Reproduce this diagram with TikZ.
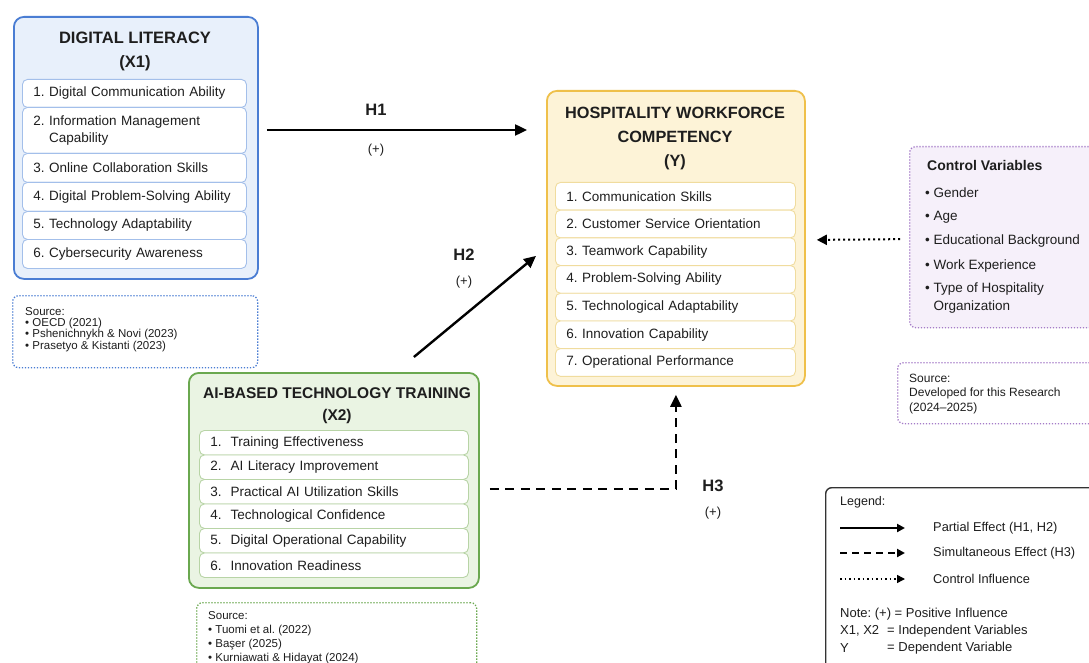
\documentclass[tikz,border=0pt]{standalone}
\usepackage{fontspec}
\setmainfont{Liberation Sans}
\usetikzlibrary{arrows.meta,calc}
\definecolor{dlfill}{HTML}{E8F0FB}
\definecolor{dlline}{HTML}{4A7DD3}
\definecolor{dlitem}{HTML}{A3BFEA}
\definecolor{aifill}{HTML}{EAF4E3}
\definecolor{ailine}{HTML}{6AA84F}
\definecolor{aiitem}{HTML}{B8D4A6}
\definecolor{hwfill}{HTML}{FDF3D7}
\definecolor{hwline}{HTML}{EFC04A}
\definecolor{hwitem}{HTML}{F0DC9E}
\definecolor{cvfill}{HTML}{F6F0FA}
\definecolor{cvline}{HTML}{A57CC8}
\definecolor{ink}{HTML}{1E1E1E}
\definecolor{lgline}{HTML}{333333}
\newcommand\fsz[2]{\fontsize{#1}{#2}\selectfont}
\frenchspacing
\begin{document}
\begin{tikzpicture}[x=1pt,y=-1pt,
  bigbox/.style={anchor=north west,rounded corners=10pt,line width=1.8pt,inner sep=0pt},
  srcbox/.style={anchor=north west,rounded corners=6pt,line width=1.3pt,dash pattern=on 1.3pt off 1.7pt,fill=white,inner sep=0pt},
  itembox/.style={anchor=north west,rounded corners=5pt,line width=0.9pt,fill=white,inner xsep=11pt,inner ysep=0pt,align=left,font=\fsz{13.5}{16.5},text=ink},
  ttl/.style={font=\bfseries\fsz{16.5}{20},text=ink,inner sep=0pt},
  txt/.style={anchor=west,inner sep=0pt,text=ink,align=left},
  hlab/.style={font=\bfseries\fsz{16.5}{20},text=ink,inner sep=0pt},
  plab/.style={font=\fsz{13}{16},text=ink,inner sep=0pt},
  arr/.style={line width=2.4pt,draw=black,-{Triangle[length=12pt,width=11pt]}},
  dasharr/.style={line width=2.4pt,draw=black,dash pattern=on 9pt off 6.5pt,-{Triangle[length=12pt,width=11pt]}},
  dotarr/.style={line width=2pt,draw=black,dash pattern=on 2pt off 3pt,-{Triangle[length=10pt,width=10pt]}},
  lgsolid/.style={line width=2pt,draw=black,-{Triangle[length=8pt,width=8pt]}},
  lgdash/.style={line width=2pt,draw=black,dash pattern=on 7pt off 5pt,-{Triangle[length=8pt,width=8pt]}},
  lgdot/.style={line width=1.5pt,draw=black,dash pattern=on 1.5pt off 3pt,-{Triangle[length=8pt,width=8pt]}}
]
\useasboundingbox (0,0) rectangle (1089,663);
\clip (0,0) rectangle (1089,663);
\fill[white] (0,0) rectangle (1089,663);

% ---------- Digital Literacy ----------
\node[bigbox,draw=dlline,fill=dlfill,minimum width=244pt,minimum height=262pt] (dl) at (13,16) {};
\node[ttl] (dlt1) at (135,38) {DIGITAL LITERACY};
\node[ttl] (dlt2) at (135,63) {(X1)};
\tikzset{dli/.style={itembox,draw=dlitem,text width=202pt,minimum width=224pt}}
\node[dli,minimum height=28pt] (dl1) at (22,79) {1. Digital Communication Ability};
\node[dli,minimum height=46pt] (dl2) at (22,107) {2. Information Management\\\phantom{2. }Capability};
\node[dli,minimum height=29pt] (dl3) at (22,153) {3. Online Collaboration Skills};
\node[dli,minimum height=29pt] (dl4) at (22,182) {4. Digital Problem-Solving Ability};
\node[dli,minimum height=28pt] (dl5) at (22,211) {5. Technology Adaptability};
\node[dli,minimum height=29pt] (dl6) at (22,239) {6. Cybersecurity Awareness};

\node[srcbox,draw=dlline,minimum width=245pt,minimum height=72pt] (dls) at (12,295) {};
\node[txt,font=\fsz{11.5}{11.7}] (dlst) at (25,312) {Source:};
\node[txt,font=\fsz{11.5}{11.7}] (dls1) at (25,323.5) {\textbullet\ OECD (2021)};
\node[txt,font=\fsz{11.5}{11.7}] (dls2) at (25,335) {\textbullet\ Pshenichnykh \& Novi (2023)};
\node[txt,font=\fsz{11.5}{11.7}] (dls3) at (25,346.5) {\textbullet\ Prasetyo \& Kistanti (2023)};

% ---------- AI-based training ----------
\node[bigbox,draw=ailine,fill=aifill,minimum width=290pt,minimum height=215pt] (ai) at (188,372) {};
\node[ttl,font=\bfseries\fsz{15.5}{19}] (ait1) at (337,393) {AI-BASED TECHNOLOGY TRAINING};
\node[ttl,font=\bfseries\fsz{15.5}{19}] (ait2) at (337,416) {(X2)};
\tikzset{aii/.style={itembox,draw=aiitem,text width=247pt,minimum width=269pt,minimum height=24.5pt}}
\node[aii] (ai1) at (199,430) {1.\ \ Training Effectiveness};
\node[aii] (ai2) at (199,454.5) {2.\ \ AI Literacy Improvement};
\node[aii] (ai3) at (199,479) {3.\ \ Practical AI Utilization Skills};
\node[aii] (ai4) at (199,503.5) {4.\ \ Technological Confidence};
\node[aii] (ai5) at (199,528) {5.\ \ Digital Operational Capability};
\node[aii] (ai6) at (199,552.5) {6.\ \ Innovation Readiness};

\node[srcbox,draw=ailine,minimum width=280pt,minimum height=90pt] (ais) at (196,602) {};
\node[txt,font=\fsz{11.5}{13}] (aist) at (208,616) {Source:};
\node[txt,font=\fsz{11.5}{13}] (ais1) at (208,631) {\textbullet\ Tuomi et al. (2022)};
\node[txt,font=\fsz{11.5}{13}] (ais2) at (208,645) {\textbullet\ Başer (2025)};
\node[txt,font=\fsz{11.5}{13}] (ais3) at (208,659) {\textbullet\ Kurniawati \& Hidayat (2024)};

% ---------- Hospitality Workforce Competency ----------
\node[bigbox,draw=hwline,fill=hwfill,minimum width=258pt,minimum height=295pt] (hw) at (546,90) {};
\node[ttl,font=\bfseries\fsz{16.3}{20}] (hwt1) at (675,113) {HOSPITALITY WORKFORCE};
\node[ttl,font=\bfseries\fsz{16.3}{20}] (hwt2) at (675,137) {COMPETENCY};
\node[ttl,font=\bfseries\fsz{16.3}{20}] (hwt3) at (675,162) {(Y)};
\tikzset{hwi/.style={itembox,draw=hwitem,text width=218pt,minimum width=240pt,minimum height=27.7pt}}
\node[hwi] (hw1) at (555,182) {1. Communication Skills};
\node[hwi] (hw2) at (555,209.7) {2. Customer Service Orientation};
\node[hwi] (hw3) at (555,237.4) {3. Teamwork Capability};
\node[hwi] (hw4) at (555,265.1) {4. Problem-Solving Ability};
\node[hwi] (hw5) at (555,292.8) {5. Technological Adaptability};
\node[hwi] (hw6) at (555,320.5) {6. Innovation Capability};
\node[hwi] (hw7) at (555,348.2) {7. Operational Performance};

% ---------- Control variables ----------
\node[srcbox,draw=cvline,fill=cvfill,minimum width=200pt,minimum height=181pt] (cv) at (909,146) {};
\node[txt,font=\bfseries\fsz{14}{17}] (cvt) at (927,165) {Control Variables};
\node[txt,font=\fsz{13.5}{17.5}] (cv1) at (925,193) {\textbullet\ Gender};
\node[txt,font=\fsz{13.5}{17.5}] (cv2) at (925,217) {\textbullet\ Age};
\node[txt,font=\fsz{13.5}{17.5}] (cv3) at (925,241) {\textbullet\ Educational Background};
\node[txt,font=\fsz{13.5}{17.5}] (cv4) at (925,266) {\textbullet\ Work Experience};
\node[txt,font=\fsz{13.5}{17.5}] (cv5) at (925,298) {\textbullet\ Type of Hospitality\\\phantom{\textbullet\ }Organization};

\node[srcbox,draw=cvline,fill=white,minimum width=210pt,minimum height=61pt] (cvs) at (897,362) {};
\node[txt,font=\fsz{12}{14.2}] (cvsr) at (909,394) {Source:\\Developed for this Research\\(2024--2025)};

% ---------- Legend ----------
\node[anchor=north west,draw=lgline,line width=1.4pt,rounded corners=6pt,fill=white,minimum width=280pt,minimum height=200pt,inner sep=0pt] (lg) at (825,487) {};
\node[txt,font=\fsz{12.5}{15}] (lgt) at (840,502) {Legend:};
\coordinate (l1a) at (840,528); \coordinate (l1b) at (905,528);
\coordinate (l2a) at (840,553); \coordinate (l2b) at (905,553);
\coordinate (l3a) at (840,579); \coordinate (l3b) at (905,579);
\draw[lgsolid] (l1a) -- (l1b);
\draw[lgdash] (l2a) -- (l2b);
\draw[lgdot] (l3a) -- (l3b);
\node[txt,font=\fsz{12.8}{15}] (lg1) at (933,528) {Partial Effect (H1, H2)};
\node[txt,font=\fsz{12.8}{15}] (lg2) at (933,553) {Simultaneous Effect (H3)};
\node[txt,font=\fsz{12.8}{15}] (lg3) at (933,579) {Control Influence};
\node[txt,font=\fsz{13}{16}] (lgn) at (840,614) {Note: (+) = Positive Influence};
\node[txt,font=\fsz{13}{16}] (lgx) at (840,631) {X1, X2};
\node[txt,font=\fsz{13}{16}] (lgxe) at (887,631) {= Independent Variables};
\node[txt,font=\fsz{13}{16}] (lgy) at (840,648) {Y};
\node[txt,font=\fsz{13}{16}] (lgye) at (887,648) {= Dependent Variable};

% ---------- Connectors ----------
\coordinate (r1) at (0,130);
\draw[arr,shorten <=8pt,shorten >=19pt] (dl.east |- r1) -- (hw.west |- r1);
\node[hlab] (h1) at (376,110) {H1};
\node[plab] (h1p) at (376,150) {(+)};

\draw[arr] ([xshift=80pt,yshift=15pt]ai.north) -- ([xshift=-10pt,yshift=-17.5pt]hw.west);
\node[hlab] (h2) at (464,255) {H2};
\node[plab] (h2p) at (464,282) {(+)};

\draw[dasharr] ([xshift=10pt,yshift=-8.5pt]ai.east) -| ([yshift=-8pt]hw.south);
\node[hlab] (h3) at (713,486) {H3};
\node[plab] (h3p) at (713,513) {(+)};

\draw[dotarr] ([xshift=-9pt,yshift=-2pt]cv.west) -- ([xshift=11pt,yshift=-1.5pt]hw.east);
\end{tikzpicture}
\end{document}
